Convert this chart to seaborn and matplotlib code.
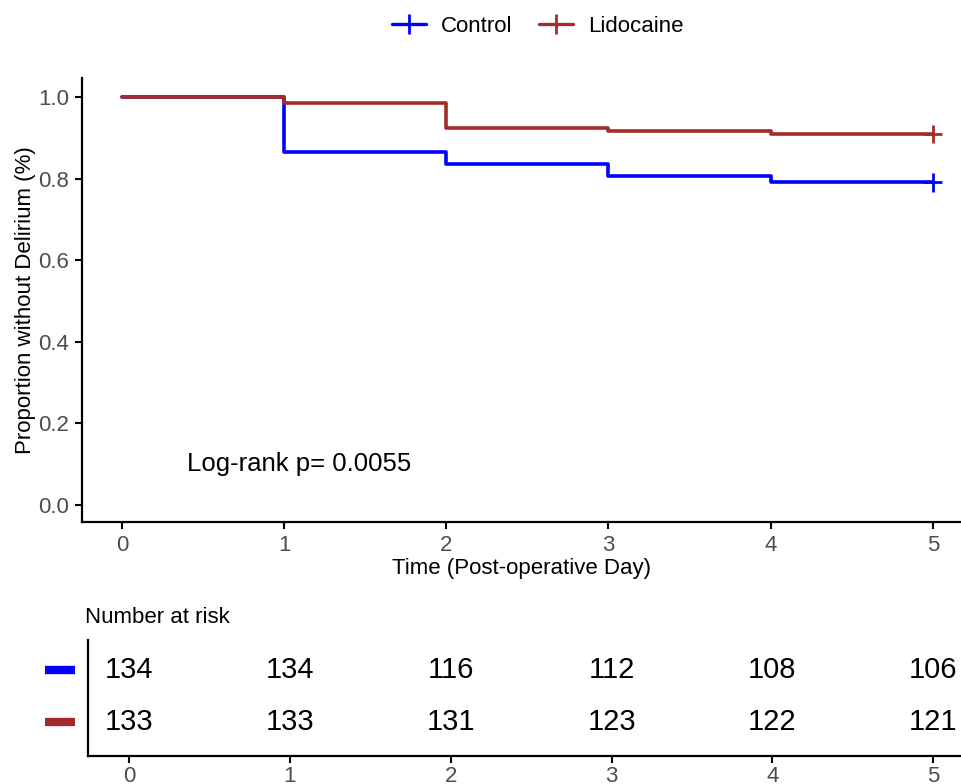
import numpy as np
import pandas as pd
import matplotlib.pyplot as plt
import seaborn as sns
from matplotlib.lines import Line2D

# Kaplan-Meier estimates by post-operative day
days = [0, 1, 2, 3, 4, 5]
groups = ['Control', 'Lidocaine']
surv_control = [1.0, 0.866, 0.836, 0.806, 0.791, 0.791]
surv_lido = [1.0, 0.985, 0.925, 0.917, 0.910, 0.910]
risk_control = [134, 134, 116, 112, 108, 106]
risk_lido = [133, 133, 131, 123, 122, 121]
pval_text = 'Log-rank p= 0.0055'
colors = {'Control': '#0000FF', 'Lidocaine': '#A52A2A'}

sns.set_style('ticks', {'axes.edgecolor': 'black', 'text.color': 'black',
                        'axes.labelcolor': 'black', 'xtick.color': 'black',
                        'ytick.color': 'black'})
plt.rcParams['font.family'] = ['Liberation Sans', 'DejaVu Sans']

df = pd.DataFrame({
    'day': days * 2,
    'surv': surv_control + surv_lido,
    'group': ['Control'] * len(days) + ['Lidocaine'] * len(days),
})

fig = plt.figure(figsize=(9.61, 7.84), dpi=100)
ax = fig.add_axes([0.0853, 0.334, 0.914, 0.5665])
ax2 = fig.add_axes([0.0916, 0.0357, 0.908, 0.148])

sns.lineplot(data=df, x='day', y='surv', hue='group', palette=colors,
             drawstyle='steps-post', lw=2.6, legend=False, ax=ax)
last = df[df['day'] == days[-1]]
sns.scatterplot(data=last, x='day', y='surv', hue='group', palette=colors,
                marker='+', s=180, linewidth=2, legend=False, ax=ax, zorder=3)

ax.set_xlim(-0.247, 5.17)
ax.set_ylim(-0.042, 1.047)
ax.set_xticks(days)
ax.set_yticks([0, 0.2, 0.4, 0.6, 0.8, 1.0])
ax.set_yticklabels(['0.0', '0.2', '0.4', '0.6', '0.8', '1.0'])
ax.set_xlabel('Time (Post-operative Day)', fontsize=16, labelpad=2)
ax.set_ylabel('Proportion without Delirium (%)', fontsize=16, labelpad=2)
ax.tick_params(labelsize=16, labelcolor='#4D4D4D', width=1.5, length=5, pad=4)
for s in ['top', 'right']:
    ax.spines[s].set_visible(False)
for s in ['left', 'bottom']:
    ax.spines[s].set_linewidth(1.6)
ax.text(0.4, 0.1, pval_text, fontsize=18.5, va='center', ha='left')

handles = [Line2D([], [], color=colors[g], lw=2.4, marker='+', markersize=15, mew=2)
           for g in groups]
fig.legend(handles, groups, loc='upper center', bbox_to_anchor=(0.56, 1.005),
           ncol=2, frameon=False, fontsize=16, handlelength=1.5, columnspacing=1.2,
           handletextpad=0.7)

# risk table
for row, (g, counts) in enumerate([('Lidocaine', risk_lido), ('Control', risk_control)]):
    for d, n in zip(days, counts):
        ax2.text(d, row, str(n), ha='center', va='center', fontsize=21)
    ax2.plot([-0.049, -0.015], [row, row], color=colors[g], lw=6,
             transform=ax2.get_yaxis_transform(), clip_on=False, solid_capstyle='butt')
ax2.set_xlim(-0.255, 5.17)
ax2.set_ylim(-0.654, 1.578)
ax2.set_xticks(days)
ax2.set_yticks([])
ax2.tick_params(labelsize=16, labelcolor='#4D4D4D', width=1.5, length=5, pad=2)
for s in ['top', 'right']:
    ax2.spines[s].set_visible(False)
for s in ['left', 'bottom']:
    ax2.spines[s].set_linewidth(1.6)
ax2.set_title('Number at risk', loc='left', x=-0.003, fontsize=16, pad=12)

fig.savefig('out.png', dpi=100)
